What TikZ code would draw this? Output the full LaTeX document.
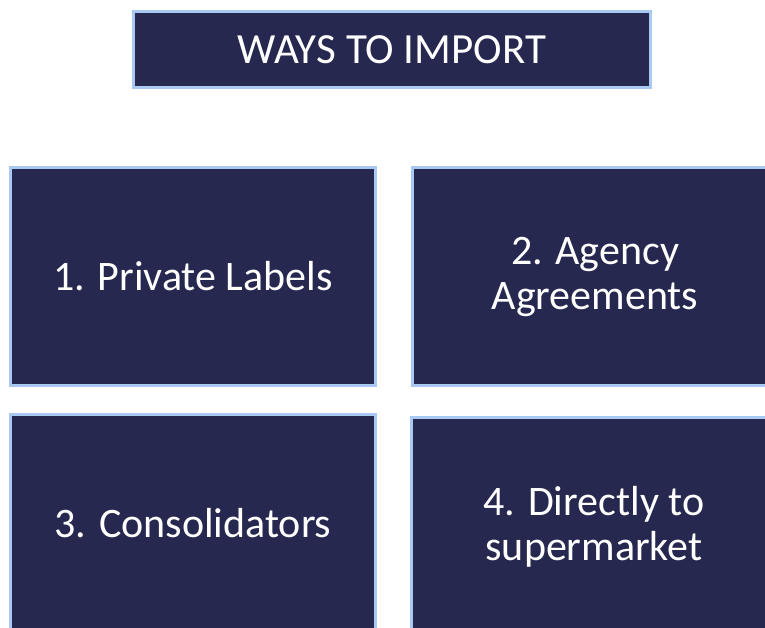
\documentclass[tikz,border=0pt]{standalone}
\usepackage{fontspec}
\setmainfont{Carlito}
\usepackage{tikz}
\usetikzlibrary{positioning}
\definecolor{navybox}{HTML}{262850}
\definecolor{paleedge}{HTML}{A9C8F2}
\tikzset{
  waybox/.style={rectangle,draw=paleedge,fill=navybox,line width=3pt,
    minimum width=365pt,minimum height=218pt,text=white,align=center,
    font=\fontsize{42}{45}\selectfont},
  titlebox/.style={waybox,minimum width=517pt,minimum height=76pt,
    font=\fontsize{43}{44}\selectfont},
}
\begin{document}
\begin{tikzpicture}[x=1pt,y=1pt]
  \useasboundingbox (0,0) rectangle (765,627);
  \clip (0,0) rectangle (765,627);
  \node[titlebox] (title) at (392,577.5) {WAYS TO IMPORT};
  \node[waybox] (private) at (193,350.5) {1. Private Labels};
  \node[waybox] (agency) at (595,350.5) {2. Agency\\Agreements};
  \node[waybox] (consol) at (193,103.5) {3. Consolidators};
  \node[waybox] (direct) at (594,100.5) {4. Directly to\\supermarket};
\end{tikzpicture}
\end{document}
